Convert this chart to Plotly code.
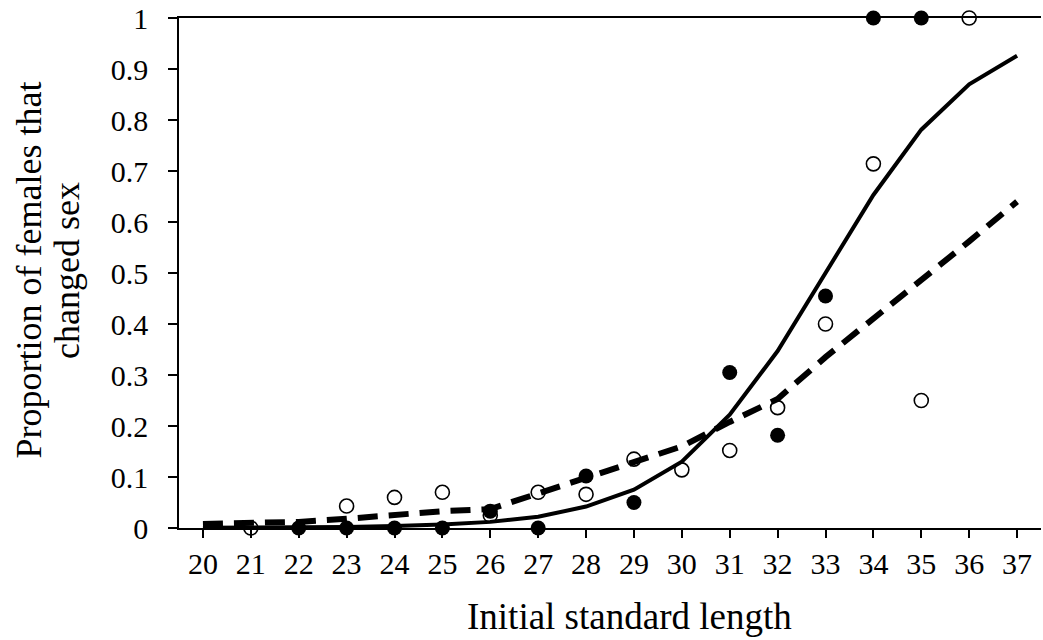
import plotly.graph_objects as go

lengths = list(range(20, 38))
solid_fit = [0.0003, 0.0005, 0.001, 0.002, 0.004, 0.007, 0.012, 0.022, 0.042,
             0.075, 0.13, 0.222, 0.347, 0.5, 0.653, 0.781, 0.870, 0.926]
dashed_fit = [0.008, 0.009, 0.012, 0.018, 0.026, 0.033, 0.037, 0.068, 0.097,
              0.13, 0.16, 0.208, 0.253, 0.335, 0.41, 0.484, 0.562, 0.64]

filled_x = [22, 23, 24, 25, 26, 27, 28, 29, 31, 32, 33, 34, 35]
filled_y = [0, 0, 0, 0, 0.033, 0, 0.102, 0.05, 0.305, 0.182, 0.455, 1, 1]

open_x = [21, 23, 24, 25, 26, 27, 28, 29, 30, 31, 32, 33, 34, 35, 36]
open_y = [0, 0.043, 0.06, 0.07, 0.025, 0.07, 0.066, 0.135, 0.114, 0.152,
          0.236, 0.40, 0.714, 0.25, 1]

y_ticks = [0, 0.1, 0.2, 0.3, 0.4, 0.5, 0.6, 0.7, 0.8, 0.9, 1]
y_ticktext = ["0", "0.1", "0.2", "0.3", "0.4", "0.5", "0.6", "0.7", "0.8", "0.9", "1"]

x_title = "Initial standard length"
y_title_lines = ["Proportion of females that", "changed sex"]

FONT = "Liberation Serif, Times New Roman, serif"

fig = go.Figure()
fig.add_trace(go.Scatter(x=lengths, y=solid_fit, mode="lines",
                         line=dict(color="black", width=4), cliponaxis=False,
                         showlegend=False))
fig.add_trace(go.Scatter(x=lengths, y=dashed_fit, mode="lines",
                         line=dict(color="black", width=6, dash="20px,11px"),
                         cliponaxis=False, showlegend=False))
fig.add_trace(go.Scatter(x=filled_x, y=filled_y, mode="markers",
                         marker=dict(symbol="circle", size=15, color="black"),
                         cliponaxis=False, showlegend=False))
fig.add_trace(go.Scatter(x=open_x, y=open_y, mode="markers",
                         marker=dict(symbol="circle-open", size=14, color="black",
                                     line=dict(width=1.6)),
                         cliponaxis=False, showlegend=False))

fig.update_layout(
    width=1043, height=640,
    margin=dict(l=179, r=2, t=18, b=112),
    plot_bgcolor="white", paper_bgcolor="white",
    font=dict(family=FONT, color="black", size=29),
    xaxis=dict(range=[19.5, 37.5], tickvals=lengths, showline=True,
               linecolor="black", linewidth=1.5, mirror=True,
               ticks="outside", ticklen=8, tickwidth=1.5, tickcolor="black",
               showgrid=False, zeroline=False,
               tickfont=dict(family=FONT, size=30)),
    yaxis=dict(range=[0, 1], tickvals=y_ticks, ticktext=y_ticktext,
               showline=True, linecolor="black", linewidth=1.5,
               ticks="outside", ticklen=9, tickwidth=1.5, tickcolor="black",
               showgrid=False, zeroline=False, ticklabelstandoff=14,
               tickfont=dict(family=FONT, size=30)),
    annotations=[
        dict(text=x_title, xref="paper", yref="paper",
             x=0.523, y=-0.1745, xanchor="center", yanchor="middle",
             showarrow=False, font=dict(family=FONT, size=37)),
        dict(text=y_title_lines[0], xref="paper", yref="paper",
             x=-0.1745, y=0.506, xanchor="center", yanchor="middle", textangle=-90,
             showarrow=False, font=dict(family=FONT, size=36)),
        dict(text=y_title_lines[1], xref="paper", yref="paper",
             x=-0.1300, y=0.506, xanchor="center", yanchor="middle", textangle=-90,
             showarrow=False, font=dict(family=FONT, size=36)),
    ],
)

fig.write_html("out.html", config={"displayModeBar": False},
               post_script="document.body.style.margin='0';")
